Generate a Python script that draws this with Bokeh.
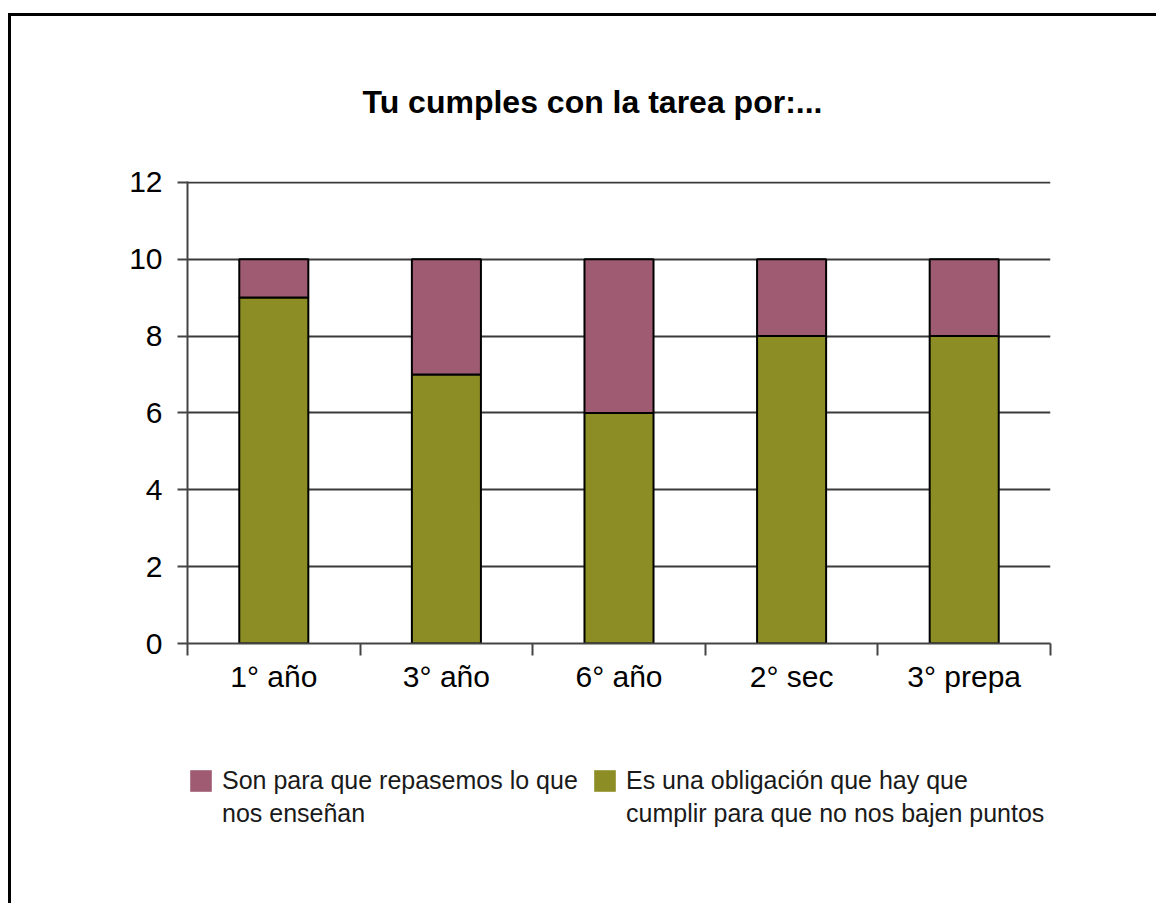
from bokeh.plotting import figure
from bokeh.layouts import column
from bokeh.models import FixedTicker, Legend, LegendItem, ColumnDataSource, Range1d
from bokeh.embed import file_html
from bokeh.resources import INLINE

categories = ["1° año", "3° año", "6° año", "2° sec", "3° prepa"]
obligacion = [9, 7, 6, 8, 8]
repasar = [1, 3, 4, 2, 2]
name_obligacion = ["Es una obligación que hay que", "cumplir para que no nos bajen puntos"]
name_repasar = ["Son para que repasemos lo que", "nos enseñan"]
colors = ["#8c8e25", "#9e5b72"]
y_ticks = [0, 2, 4, 6, 8, 10, 12]

FONT = "Liberation Sans"
n = len(categories)
xpos = [i + 0.5 for i in range(n)]
source = ColumnDataSource(dict(x=xpos, obl=obligacion, rep=repasar))

p = figure(width=1156, height=764, output_backend="svg", toolbar_location=None,
           x_range=Range1d(0, n), y_range=Range1d(0, 12.02),
           min_border_left=187, min_border_right=106, min_border_top=181, min_border_bottom=121,
           title="Tu cumples con la tarea por:...")
p.background_fill_color = None
p.border_fill_color = None
p.outline_line_color = None

p.title.text_font = FONT
p.title.text_font_size = "32px"
p.title.text_font_style = "bold"
p.title.text_color = "black"
p.title.align = "left"
p.title.offset = 175
p.title.standoff = 124

p.vbar_stack(["obl", "rep"], x="x", width=0.4, source=source,
             fill_color=colors, line_color="black", line_width=2)

# axes
p.xaxis.ticker = FixedTicker(ticks=xpos, minor_ticks=list(range(n + 1)))
p.xaxis.major_label_overrides = {x: c for x, c in zip(xpos, categories)}
p.xaxis.major_tick_out = 0
p.xaxis.major_tick_in = 0
p.xaxis.minor_tick_out = 12
p.xaxis.minor_tick_in = 0
p.xaxis.minor_tick_line_color = "#444444"
p.xaxis.minor_tick_line_width = 2
p.xaxis.major_label_standoff = 4

p.yaxis.ticker = FixedTicker(ticks=y_ticks)
p.yaxis.major_tick_out = 10
p.yaxis.major_tick_in = 0
p.yaxis.minor_tick_out = 0
p.yaxis.minor_tick_in = 0
p.yaxis.major_label_standoff = 15
p.yaxis.major_tick_line_color = "#444444"
p.yaxis.major_tick_line_width = 2

for ax in (p.xaxis, p.yaxis):
    ax.axis_line_color = "#444444"
    ax.axis_line_width = 2
    ax.major_label_text_font = FONT
    ax.major_label_text_font_size = "30px"
    ax.major_label_text_color = "black"

p.xgrid.grid_line_color = None
p.ygrid.ticker = FixedTicker(ticks=y_ticks)
p.ygrid.grid_line_color = "#3a3a3a"
p.ygrid.grid_line_width = 2

# legend figure (its bars are kept out of view; only the legend is shown)
lg = figure(width=1156, height=139, output_backend="svg", toolbar_location=None,
            x_range=Range1d(100, 101), y_range=Range1d(100, 101),
            x_axis_type=None, y_axis_type=None,
            min_border_left=187, min_border_right=106, min_border_top=0, min_border_bottom=0)
lg.background_fill_color = None
lg.border_fill_color = None
lg.outline_line_color = None
lg.xgrid.grid_line_color = None
lg.ygrid.grid_line_color = None
leg_r = lg.vbar_stack(["obl", "rep"], x="x", width=0.4, source=source,
                      fill_color=colors, line_alpha=0)
blank = lg.vbar(x="x", top="obl", width=0.4, source=source, fill_alpha=0, line_alpha=0)

legend = Legend(items=[LegendItem(label=name_repasar[0], renderers=[leg_r[1]]),
                       LegendItem(label=name_obligacion[0], renderers=[leg_r[0]]),
                       LegendItem(label=name_repasar[1], renderers=[blank]),
                       LegendItem(label=name_obligacion[1], renderers=[blank])],
                orientation="horizontal", ncols=2, location="top_left")
legend.padding = 0
legend.margin = 0
legend.spacing = 0
legend.label_width = 369
legend.label_height = 33
legend.label_standoff = 8
legend.glyph_width = 27
legend.glyph_height = 27
legend.label_text_font = FONT
legend.label_text_font_size = "25px"
legend.label_text_color = "#1a1a1a"
legend.border_line_alpha = 0
legend.background_fill_alpha = 0
lg.add_layout(legend, "center")

layout = column(p, lg, spacing=0)
layout.styles = {
    "background-color": "white",
    "background-image": "linear-gradient(#000,#000), linear-gradient(#000,#000)",
    "background-size": "3px 100%, 100% 3px",
    "background-position": "8px 13px, 8px 13px",
    "background-repeat": "no-repeat",
}

open("out.html", "w").write(file_html(layout, INLINE))
